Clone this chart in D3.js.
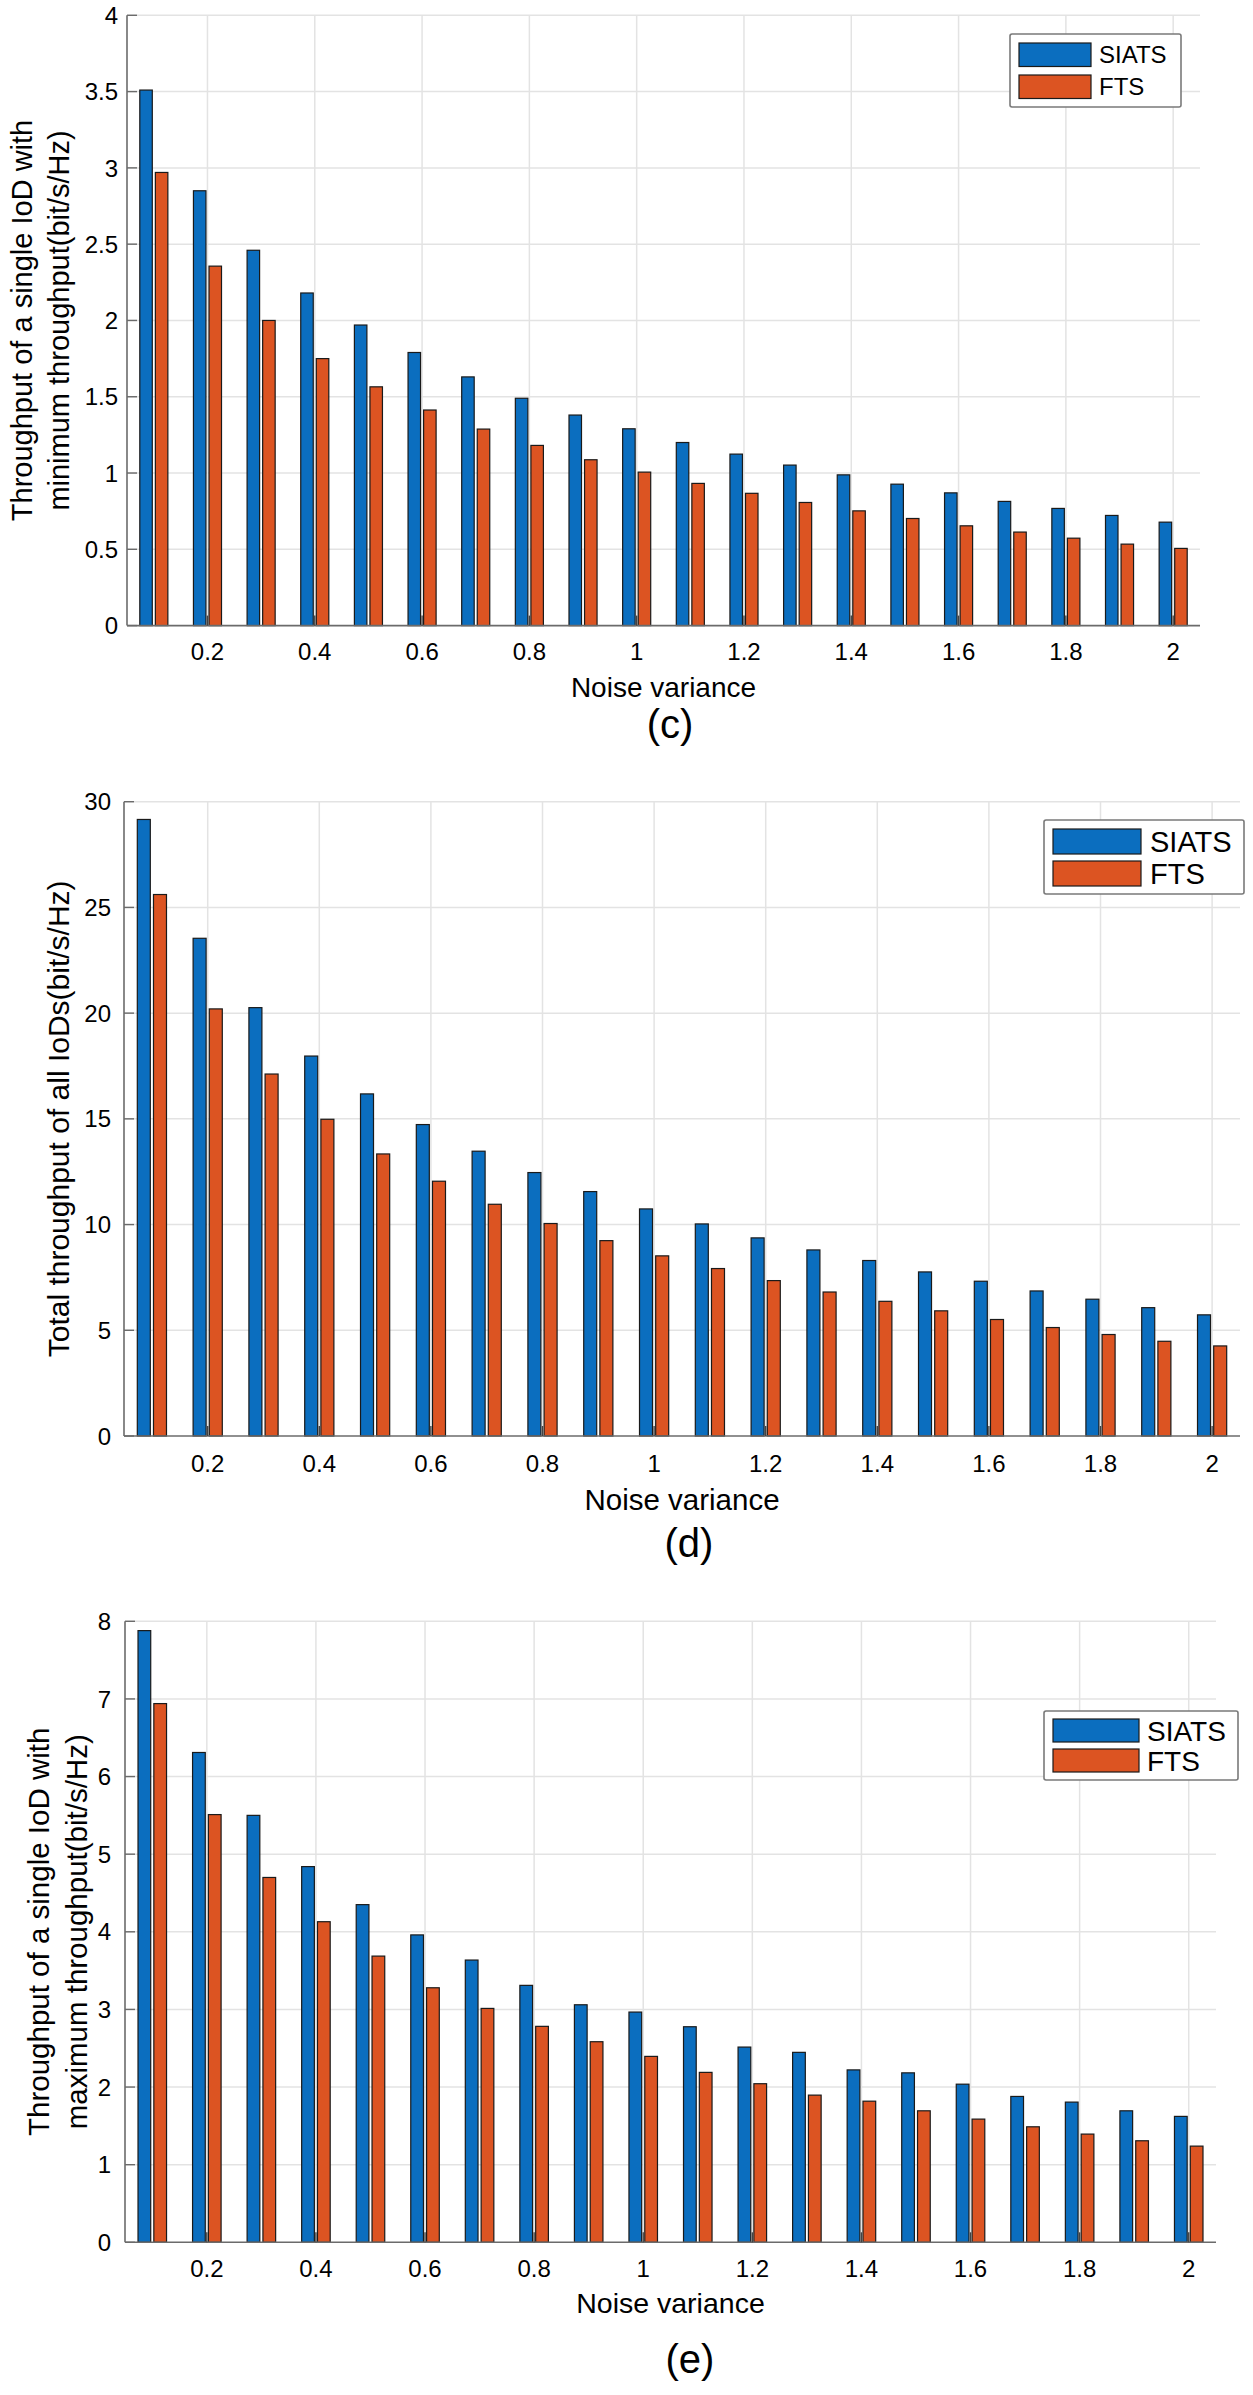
<!DOCTYPE html>
<html><head><meta charset="utf-8">
<script src="https://cdn.jsdelivr.net/npm/d3@7"></script>
<style>
body{margin:0;background:#fff}
svg{display:block}
text{font-family:"Liberation Sans",Arial,Helvetica,sans-serif;fill:#000}
</style>
</head><body>
<svg id="fig" width="1253" height="2395"></svg>
<script>
// ---------------- data ----------------
const noiseVariance = [0.1,0.2,0.3,0.4,0.5,0.6,0.7,0.8,0.9,1.0,1.1,1.2,1.3,1.4,1.5,1.6,1.7,1.8,1.9,2.0];
const xTickValues = [0.2,0.4,0.6,0.8,1.0,1.2,1.4,1.6,1.8,2.0];
const xTickLabels = ["0.2","0.4","0.6","0.8","1","1.2","1.4","1.6","1.8","2"];
const seriesNames = ["SIATS","FTS"];

// (c) minimum throughput
const siatsMinThroughput = [3.51,2.85,2.46,2.18,1.97,1.79,1.63,1.49,1.38,1.29,1.20,1.124,1.052,0.988,0.927,0.870,0.814,0.768,0.722,0.678];
const ftsMinThroughput   = [2.97,2.356,2.00,1.75,1.565,1.413,1.288,1.181,1.087,1.006,0.932,0.867,0.807,0.752,0.702,0.654,0.613,0.573,0.534,0.506];
// (d) total throughput
const siatsTotalThroughput = [29.16,23.54,20.26,17.97,16.18,14.73,13.47,12.46,11.56,10.74,10.03,9.37,8.80,8.30,7.76,7.32,6.86,6.47,6.07,5.73];
const ftsTotalThroughput   = [25.61,20.20,17.12,14.98,13.34,12.05,10.96,10.05,9.24,8.52,7.92,7.35,6.81,6.37,5.92,5.51,5.13,4.80,4.48,4.26];
// (e) maximum throughput
const siatsMaxThroughput = [7.88,6.31,5.50,4.84,4.35,3.96,3.636,3.31,3.06,2.966,2.777,2.515,2.447,2.221,2.183,2.037,1.879,1.806,1.694,1.622];
const ftsMaxThroughput   = [6.94,5.51,4.70,4.13,3.687,3.279,3.013,2.782,2.584,2.395,2.189,2.043,1.896,1.818,1.694,1.587,1.488,1.394,1.308,1.239];

const yTicksMin = [0,0.5,1,1.5,2,2.5,3,3.5,4];
const yTickLabelsMin = ["0","0.5","1","1.5","2","2.5","3","3.5","4"];
const yTicksTotal = [0,5,10,15,20,25,30];
const yTickLabelsTotal = ["0","5","10","15","20","25","30"];
const yTicksMax = [0,1,2,3,4,5,6,7,8];
const yTickLabelsMax = ["0","1","2","3","4","5","6","7","8"];

const xLabel = "Noise variance";
const yLabelMin = ["Throughput of a single IoD with","minimum throughput(bit/s/Hz)"];
const yLabelTotal = ["Total throughput of all IoDs(bit/s/Hz)"];
const yLabelMax = ["Throughput of a single IoD with","maximum throughput(bit/s/Hz)"];
const captions = ["(c)","(d)","(e)"];

// ---------------- styling / layout ----------------
const colors = ["#0b6ebf","#dc5422"];
const gridColor = "#e3e3e3";
const axisColor = "#6b6b6b";
const barOffset = 0.0145, barWidth = 0.0233;
const xDomain = [0.05, 2.05];

const panels = [
  {series:[siatsMinThroughput, ftsMinThroughput], yTicks:yTicksMin, yTickLabels:yTickLabelsMin, yMax:4,
   yLabel:yLabelMin, caption:captions[0],
   left:127, right:1200, top:15.3, bottom:625.6,
   tickFont:24, yTickRight:118, xTickBase:660, labelFont:28, xLabelBase:696.7,
   yLabelFont:29, yLabelX:[32,69], capBase:737.5, capX:670,
   legend:{x:1010, y:34, w:171, h:73, sw:72, sh:23.5, sx:9, sy1:9, sy2:41, tx:89, font:24}},
  {series:[siatsTotalThroughput, ftsTotalThroughput], yTicks:yTicksTotal, yTickLabels:yTickLabelsTotal, yMax:30,
   yLabel:yLabelTotal, caption:captions[1],
   left:124, right:1240, top:801.7, bottom:1436,
   tickFont:24, yTickRight:111, xTickBase:1472, labelFont:29.5, xLabelBase:1510,
   yLabelFont:30, yLabelX:[68.5], capBase:1557, capX:689,
   legend:{x:1044, y:820, w:200, h:74, sw:88, sh:25, sx:9, sy1:9, sy2:41, tx:106, font:29}},
  {series:[siatsMaxThroughput, ftsMaxThroughput], yTicks:yTicksMax, yTickLabels:yTickLabelsMax, yMax:8,
   yLabel:yLabelMax, caption:captions[2],
   left:125, right:1216, top:1621.3, bottom:2242.3,
   tickFont:24, yTickRight:111, xTickBase:2277, labelFont:28.5, xLabelBase:2313,
   yLabelFont:29.5, yLabelX:[49,87], capBase:2373, capX:690,
   legend:{x:1044, y:1711, w:194, h:69, sw:86, sh:23, sx:9, sy1:8, sy2:38, tx:103, font:28}}
];

const svg = d3.select("#fig");

panels.forEach(p => {
  const g = svg.append("g");
  const x = d3.scaleLinear().domain(xDomain).range([p.left, p.right]);
  const y = d3.scaleLinear().domain([0, p.yMax]).range([p.bottom, p.top]);

  // grid
  g.append("g").selectAll("line").data(p.yTicks.filter(t => t > 0)).join("line")
    .attr("x1", p.left).attr("x2", p.right).attr("y1", d => y(d)).attr("y2", d => y(d))
    .attr("stroke", gridColor).attr("stroke-width", 1.5);
  g.append("g").selectAll("line").data(xTickValues).join("line")
    .attr("x1", d => x(d)).attr("x2", d => x(d)).attr("y1", p.top).attr("y2", p.bottom)
    .attr("stroke", gridColor).attr("stroke-width", 1.5);

  // bars
  p.series.forEach((vals, si) => {
    const off = si === 0 ? -barOffset : barOffset;
    g.append("g").selectAll("rect").data(vals).join("rect")
      .attr("x", (d, i) => x(noiseVariance[i] + off - barWidth / 2))
      .attr("width", (d, i) => x(noiseVariance[i] + off + barWidth / 2) - x(noiseVariance[i] + off - barWidth / 2))
      .attr("y", d => y(d))
      .attr("height", d => y(0) - y(d))
      .attr("fill", colors[si])
      .attr("stroke", "#1a1a1a").attr("stroke-width", 1.2);
  });

  // axes lines
  g.append("line").attr("x1", p.left).attr("x2", p.left).attr("y1", p.top).attr("y2", p.bottom)
    .attr("stroke", axisColor).attr("stroke-width", 1.6);
  g.append("line").attr("x1", p.left).attr("x2", p.right).attr("y1", p.bottom).attr("y2", p.bottom)
    .attr("stroke", axisColor).attr("stroke-width", 1.6);
  // tick marks (inward)
  g.append("g").selectAll("line").data(p.yTicks).join("line")
    .attr("x1", p.left).attr("x2", p.left + 10).attr("y1", d => y(d)).attr("y2", d => y(d))
    .attr("stroke", axisColor).attr("stroke-width", 1.4);
  g.append("g").selectAll("line").data(xTickValues).join("line")
    .attr("x1", d => x(d)).attr("x2", d => x(d)).attr("y1", p.bottom).attr("y2", p.bottom - 10)
    .attr("stroke", "#444").attr("stroke-width", 1.4);

  // tick labels
  g.append("g").selectAll("text").data(p.yTicks).join("text")
    .attr("x", p.yTickRight).attr("y", d => y(d) + p.tickFont * 0.36)
    .attr("text-anchor", "end").attr("font-size", p.tickFont)
    .text((d, i) => p.yTickLabels[i]);
  g.append("g").selectAll("text").data(xTickValues).join("text")
    .attr("x", d => x(d)).attr("y", p.xTickBase)
    .attr("text-anchor", "middle").attr("font-size", p.tickFont)
    .text((d, i) => xTickLabels[i]);

  // axis labels
  g.append("text").attr("x", (p.left + p.right) / 2).attr("y", p.xLabelBase)
    .attr("text-anchor", "middle").attr("font-size", p.labelFont).text(xLabel);
  const cy = (p.top + p.bottom) / 2;
  p.yLabel.forEach((line, li) => {
    g.append("text")
      .attr("transform", `translate(${p.yLabelX[li]},${cy}) rotate(-90)`)
      .attr("text-anchor", "middle").attr("font-size", p.yLabelFont).text(line);
  });

  // caption
  g.append("text").attr("x", p.capX).attr("y", p.capBase)
    .attr("text-anchor", "middle").attr("font-size", 40).text(p.caption);

  // legend
  const L = p.legend;
  const lg = g.append("g").attr("transform", `translate(${L.x},${L.y})`);
  lg.append("rect").attr("width", L.w).attr("height", L.h).attr("rx", 2)
    .attr("fill", "#fff").attr("stroke", "#7a7a7a").attr("stroke-width", 1.6);
  seriesNames.forEach((name, si) => {
    const sy = si === 0 ? L.sy1 : L.sy2;
    lg.append("rect").attr("x", L.sx).attr("y", sy).attr("width", L.sw).attr("height", L.sh)
      .attr("fill", colors[si]).attr("stroke", "#1a1a1a").attr("stroke-width", 1.2);
    lg.append("text").attr("x", L.tx).attr("y", sy + L.sh / 2 + L.font * 0.36)
      .attr("font-size", L.font).text(name);
  });
});
</script>
</body></html>
